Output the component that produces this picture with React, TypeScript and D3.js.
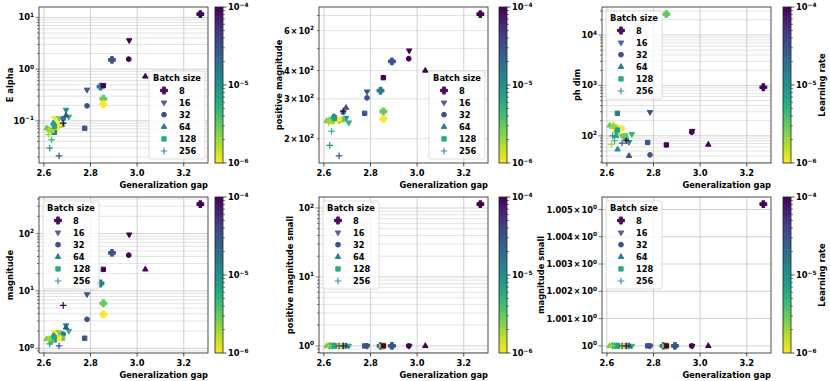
import React from "react";
import * as d3 from "d3";

// one entry per run: batch size, learning rate, generalization gap, metrics
const batch = [8, 16, 32, 64, 128, 256, 8, 16, 32, 64, 128, 256, 8, 16, 32, 64, 128, 256, 8, 16, 32, 64, 128, 256, 8, 16, 32, 64, 128, 256, 16, 64, 128, 32, 128, 64];
const lr = [1e-4, 1e-4, 1e-4, 1e-4, 1e-4, 1e-4, 3e-5, 3e-5, 3e-5, 3e-5, 3e-5, 3e-5, 1.5e-5, 1e-5, 1.5e-5, 1e-5, 1.5e-5, 1e-5, 3e-6, 5e-6, 3e-6, 3e-6, 3e-6, 5e-6, 1e-6, 1e-6, 1e-6, 1.5e-6, 1e-6, 2e-6, 2.5e-6, 2e-6, 2e-6, 2e-6, 7e-6, 7e-6];
const gap = [3.271, 2.966, 2.964, 3.035, 2.855, 2.683, 2.892, 2.785, 2.785, 2.695, 2.775, 2.665, 2.843, 2.695, 2.683, 2.646, 2.645, 2.625, 2.855, 2.707, 2.67, 2.612, 2.68, 2.633, 2.855, 2.645, 2.655, 2.627, 2.665, 2.62, 2.665, 2.622, 2.635, 2.64, 2.645, 2.64];
const eAlpha = [11.6, 3.6, 1.56, 0.72, 0.48, 0.09, 1.51, 0.4, 0.195, 0.127, 0.072, 0.021, 0.46, 0.163, 0.11, 0.085, 0.06, 0.0296, 0.267, 0.12, 0.082, 0.072, 0.084, 0.043, 0.21, 0.113, 0.07, 0.065, 0.084, 0.054, 0.113, 0.068, 0.065, 0.062, 0.078, 0.09];
const magnitude = [326, 96, 42, 23.7, 23.7, 5.6, 46, 8.7, 3.2, 2.3, 1.5, 1.1, 13.5, 2.5, 1.77, 1.6, 1.4, 1.19, 6.1, 2.0, 1.55, 1.45, 1.5, 1.3, 3.9, 1.9, 1.5, 1.45, 1.5, 1.4, 1.9, 1.45, 1.4, 1.45, 1.55, 1.65];
const posMag = [710, 490, 451, 400, 372, 265, 439, 323, 303, 274, 259, 168, 326, 247, 262, 250, 248, 187, 264, 236, 242, 240, 243, 216, 245, 244, 242, 240, 244, 235, 240, 242, 238, 243, 246, 250];
const phDim = [920, 125, 118, 67, 66, 80, null, 296, 42, 40, 74, 72, null, 75, 86, 54, 280, 100, 26000, 108, 100, 160, 100, 80, null, 108, 145, 165, 140, 68, 100, 150, 150, 120, 130, 100];
const posMagSmall = [114, 1, 1, 1, 1, 1, 1, 1, 1, 1, 1, 1, 1, 1, 1, 1, 1, 1, 1, 1, 1, 1, 1, 1, 1, 1, 1, 1, 1, 1, 1, 1, 1, 1, 1, 1];
const magSmall = [1.0052, 1, 1, 1, 1, 1, 1, 1, 1, 1, 1, 1, 1, 1, 1, 1, 1, 1, 1, 1, 1, 1, 1, 1, 1, 1, 1, 1, 1, 1, 1, 1, 1, 1, 1, 1];

const batchSizes = [8, 16, 32, 64, 128, 256];
const xTicks = [2.6, 2.8, 3.0, 3.2];
const posMagTicks = [200, 300, 400, 600];
const magSmallTicks = [1, 1.001, 1.002, 1.003, 1.004, 1.005];
const lrTicks = [1e-4, 1e-5, 1e-6];

const legendColors = ["#4a0f5d", "#5b5e9d", "#434b8a", "#2f7d91", "#27ad81", "#3d8fa8"];

const W = 169;
const H = 156;
const FONT = "DejaVu Sans";
const FS = 8.3;
const TIMES = "\u200a\u00d7\u200a10";

const color = d3.scaleSequentialLog(d3.interpolateViridis).domain([1e-4, 1e-6]);

const panels = [
  { id: "ea", label: "E alpha", values: eAlpha, left: 39, top: 7, cbar: 215, ylx: 10, legend: "lr", kind: "log" },
  { id: "pm", label: "positive magnitude", values: posMag, left: 319, top: 7, cbar: 499, ylx: 279, legend: "lr", kind: "minor" },
  { id: "ph", label: "ph dim", values: phDim, left: 602, top: 7, cbar: 783, ylx: 577, legend: "ul", kind: "log", cbLabel: true },
  { id: "mg", label: "magnitude", values: magnitude, left: 39, top: 197, cbar: 215, ylx: 10, legend: "ul", kind: "log" },
  { id: "ps", label: "positive magnitude small", values: posMagSmall, left: 319, top: 197, cbar: 499, ylx: 290, legend: "ul", kind: "log" },
  { id: "ms", label: "magnitude small", values: magSmall, left: 602, top: 197, cbar: 783, ylx: 541, legend: "ul", kind: "lin", cbLabel: true },
];

function Marker({ b, cx, cy, fill }) {
  if (b === 256) {
    const r = 3.3;
    return <path d={`M${cx - r},${cy}H${cx + r}M${cx},${cy - r}V${cy + r}`} stroke={fill} strokeWidth={1.2} fill="none" />;
  }
  const type = b === 8 ? d3.symbolCross : b === 32 ? d3.symbolCircle : b === 128 ? d3.symbolSquare : d3.symbolTriangle;
  const size = b === 8 ? 22 : b === 32 ? 18 : b === 128 ? 19 : 13;
  const d = d3.symbol(type, size)();
  return (
    <path
      d={d}
      transform={`translate(${cx},${cy})${b === 16 ? " rotate(180)" : ""}`}
      fill={fill}
      stroke={fill}
      strokeWidth={b === 8 ? 1.6 : 1}
      strokeLinejoin="round"
    />
  );
}

function Pow({ base, exp, x, y, anchor }) {
  return (
    <text x={x} y={y} textAnchor={anchor} fontFamily={FONT} fontWeight="bold" fontSize={FS}>
      {base}
      <tspan dy={-3.5} fontSize={FS * 0.7}>{exp}</tspan>
    </text>
  );
}

const expStr = (n) => (n < 0 ? "\u2212" + Math.abs(n) : String(n));

function Panel({ p }) {
  const [g0, g1] = d3.extent(gap);
  const x = d3
    .scaleLinear()
    .domain([g0 - 0.05 * (g1 - g0), g1 + 0.05 * (g1 - g0)])
    .range([p.left, p.left + W]);

  const valid = p.values.filter((v) => v != null);
  const lo = Math.log10(d3.min(valid));
  const hi = Math.log10(d3.max(valid));
  const pad = (hi - lo) * 0.05;
  const y = d3.scaleLog().domain([10 ** (lo - pad), 10 ** (hi + pad)]).range([p.top + H, p.top]);
  const [d0, d1] = y.domain();

  // grid / tick positions
  const grid = [];
  const labels = [];
  if (p.kind === "lin") {
    magSmallTicks.forEach((v) => {
      grid.push({ v, major: true });
      labels.push(v === 1 ? { v, base: "10", exp: "0" } : { v, base: v.toFixed(3) + TIMES, exp: "0" });
    });
  } else {
    for (let n = Math.floor(Math.log10(d0)); n <= Math.ceil(Math.log10(d1)); n++) {
      for (let k = 1; k <= 9; k++) {
        const v = k * 10 ** n;
        if (v >= d0 && v <= d1) {
          grid.push({ v, major: k === 1 });
          if (p.kind === "log" && k === 1) labels.push({ v, base: "10", exp: expStr(n) });
        }
      }
    }
    if (p.kind === "minor") {
      posMagTicks.forEach((v) => {
        const n = Math.floor(Math.log10(v));
        labels.push({ v, base: Math.round(v / 10 ** n) + TIMES, exp: String(n) });
      });
    }
  }

  const order = d3.range(batch.length).sort((a, b) => batchSizes.indexOf(batch[a]) - batchSizes.indexOf(batch[b]));
  const right = p.left + W;
  const bottom = p.top + H;

  const lw = 56;
  const lh = 88;
  const lx = p.legend === "lr" ? right - 3 - lw : p.left + 4;
  const ly = p.legend === "lr" ? bottom - 4 - lh : p.top + 4;

  const cbY = d3.scaleLog().domain([1e-4, 1e-6]).range([p.top, bottom]);
  const cbMinor = [];
  [-5, -6].forEach((n) => {
    for (let k = 2; k <= 9; k++) cbMinor.push(k * 10 ** n);
  });

  return (
    <g>
      <defs>
        <linearGradient id={`cb-${p.id}`} x1="0" y1="0" x2="0" y2="1">
          {d3.range(0, 1.001, 0.1).map((t) => (
            <stop key={t} offset={t} stopColor={d3.interpolateViridis(t)} />
          ))}
        </linearGradient>
      </defs>
      <rect x={p.left} y={p.top} width={W} height={H} fill="#fff" />
      {grid.map((g, i) => (
        <line key={"h" + i} x1={p.left} x2={right} y1={y(g.v)} y2={y(g.v)} stroke={g.major ? "#c4c4c4" : "#dcdcdc"} strokeWidth={0.8} />
      ))}
      {xTicks.map((t) => (
        <line key={"v" + t} x1={x(t)} x2={x(t)} y1={p.top} y2={bottom} stroke="#c4c4c4" strokeWidth={0.8} />
      ))}
      {order.map((i) =>
        p.values[i] == null ? null : <Marker key={i} b={batch[i]} cx={x(gap[i])} cy={y(p.values[i])} fill={color(lr[i])} />
      )}
      <rect x={p.left} y={p.top} width={W} height={H} fill="none" stroke="#222" strokeWidth={0.8} />
      {/* x axis */}
      {xTicks.map((t) => (
        <g key={"xt" + t}>
          <line x1={x(t)} x2={x(t)} y1={bottom} y2={bottom + 3.5} stroke="#222" strokeWidth={0.8} />
          <text x={x(t)} y={bottom + 13} textAnchor="middle" fontFamily={FONT} fontWeight="bold" fontSize={FS}>
            {t.toFixed(1)}
          </text>
        </g>
      ))}
      <text x={right} y={bottom + 25} textAnchor="end" fontFamily={FONT} fontWeight="bold" fontSize={FS}>
        Generalization gap
      </text>
      {/* y axis */}
      {grid.map((g, i) => (
        <line key={"yt" + i} x1={p.left - (g.major ? 3.5 : 2)} x2={p.left} y1={y(g.v)} y2={y(g.v)} stroke="#222" strokeWidth={0.6} />
      ))}
      {labels.map((l, i) => (
        <Pow key={"yl" + i} base={l.base} exp={l.exp} x={p.left - 5} y={y(l.v) + 3} anchor="end" />
      ))}
      <text
        transform={`translate(${p.ylx},${p.top + H / 2}) rotate(-90)`}
        textAnchor="middle"
        dominantBaseline="central"
        fontFamily={FONT}
        fontWeight="bold"
        fontSize={FS}
      >
        {p.label}
      </text>
      {/* legend */}
      <rect x={lx} y={ly} width={lw} height={lh} rx={2} fill="#fff" fillOpacity={0.8} stroke="#d6d6d6" strokeWidth={0.8} />
      <text x={lx + lw / 2} y={ly + 10} textAnchor="middle" fontFamily={FONT} fontWeight="bold" fontSize={FS}>
        Batch size
      </text>
      {batchSizes.map((b, i) => (
        <g key={"lg" + b}>
          <Marker b={b} cx={lx + 15} cy={ly + 19.5 + i * 12.1} fill={legendColors[i]} />
          <text x={lx + 30} y={ly + 22.5 + i * 12.1} fontFamily={FONT} fontWeight="bold" fontSize={FS}>
            {b}
          </text>
        </g>
      ))}
      {/* colorbar */}
      <rect x={p.cbar} y={p.top} width={8} height={H} fill={`url(#cb-${p.id})`} stroke="#222" strokeWidth={0.8} />
      {cbMinor.map((v) => (
        <line key={"cm" + v} x1={p.cbar + 8} x2={p.cbar + 10} y1={cbY(v)} y2={cbY(v)} stroke="#222" strokeWidth={0.6} />
      ))}
      {lrTicks.map((v) => (
        <g key={"cl" + v}>
          <line x1={p.cbar + 8} x2={p.cbar + 11.5} y1={cbY(v)} y2={cbY(v)} stroke="#222" strokeWidth={0.8} />
          <Pow base="10" exp={expStr(Math.round(Math.log10(v)))} x={p.cbar + 13} y={cbY(v) + 3} anchor="start" />
        </g>
      ))}
      {p.cbLabel && (
        <text
          transform={`translate(${p.cbar + 39},${p.top + H / 2}) rotate(-90)`}
          textAnchor="middle"
          dominantBaseline="central"
          fontFamily={FONT}
          fontWeight="bold"
          fontSize={FS}
        >
          Learning rate
        </text>
      )}
    </g>
  );
}

export default function App() {
  return (
    <svg width={830} height={381} style={{ position: "absolute", left: 0, top: 0, background: "#fff" }}>
      {panels.map((p) => (
        <Panel key={p.id} p={p} />
      ))}
    </svg>
  );
}
